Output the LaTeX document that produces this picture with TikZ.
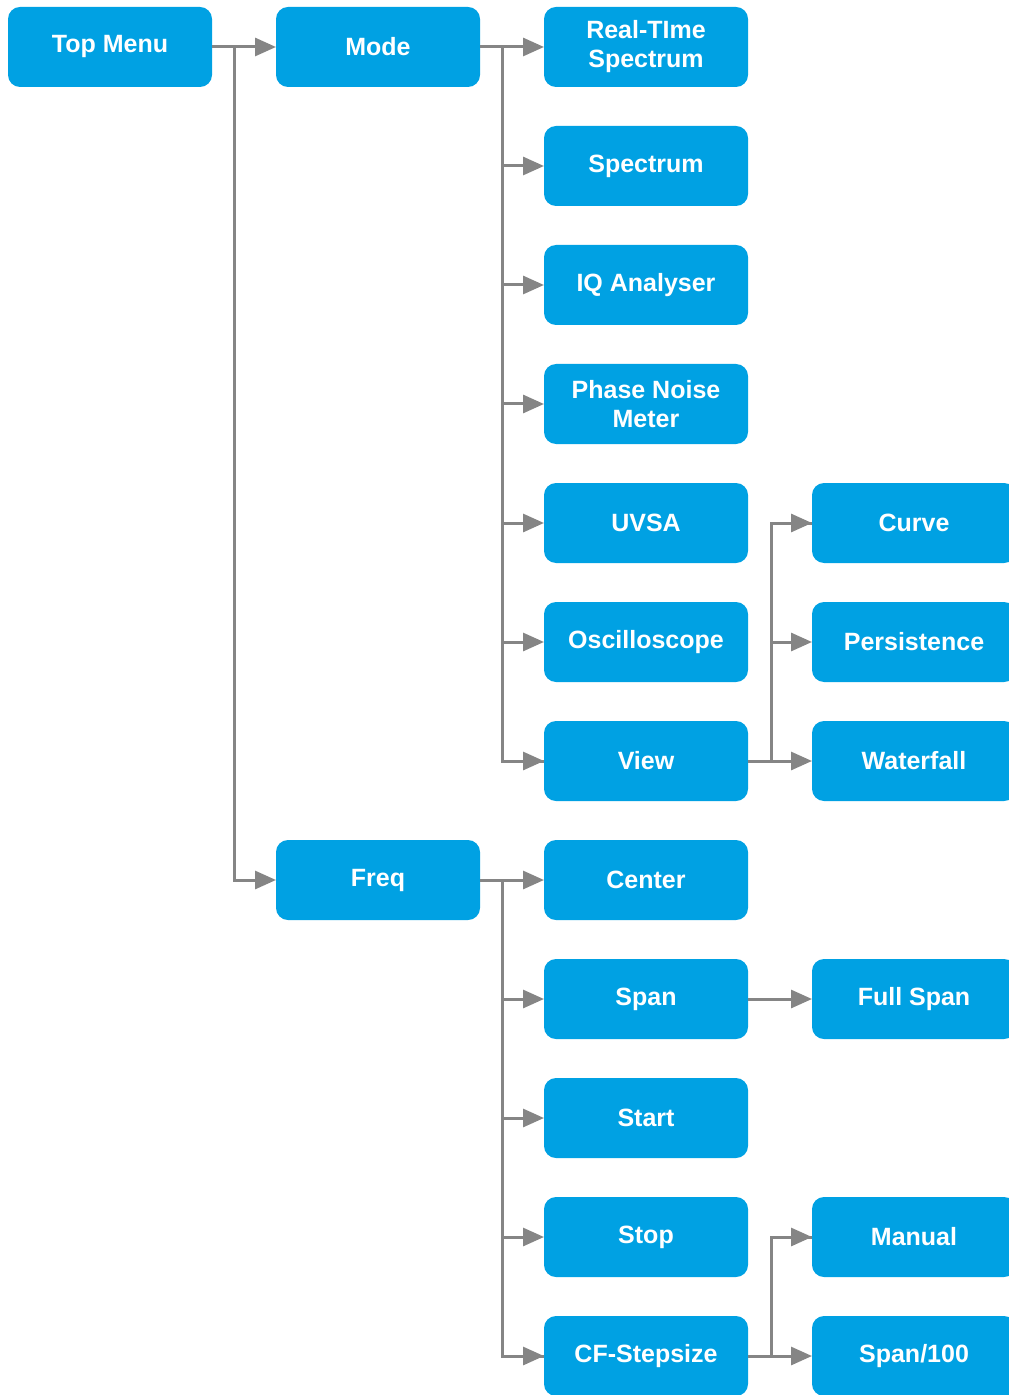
\documentclass[tikz,border=0pt]{standalone}
\usepackage{fontspec}
\setmainfont{Liberation Sans}
\usepackage{xcolor}
\usepackage{tikz}
\usetikzlibrary{positioning,arrows.meta}
\definecolor{menublue}{HTML}{00A1E3}
\definecolor{linegrey}{HTML}{858585}
\tikzset{>={Triangle[length=10.5pt,width=9pt]}}

\begin{document}
\begin{tikzpicture}[
menunode/.style={rectangle, rounded corners=6pt, align=center, fill=menublue, text=white, font=\fontsize{12.5}{14.5}\selectfont\bfseries, minimum width=102pt, minimum height=40pt, inner sep=0pt, outer sep=0pt},
menuline/.style={draw=linegrey, line width=1.5pt},
node distance=19.5pt and 32pt,
]
\useasboundingbox (0,0) rectangle (504pt,-697.5pt);
%Nodes
\node[menunode](TopMenu) at (55pt,-23.5pt){Top Menu};
\node[menunode](Mode)[right= of TopMenu]{Mode};
\node[menunode](RealTime)[right= of Mode]{Real-TIme\\Spectrum};
\node[menunode](Spectrum)[below= of RealTime]{Spectrum};
\node[menunode](IQAnalyser)[below= of Spectrum]{IQ Analyser};
\node[menunode](PhaseNoise)[below= of IQAnalyser]{Phase Noise\\Meter};
\node[menunode](UVSA)[below= of PhaseNoise]{UVSA};
\node[menunode](Oscilloscope)[below= of UVSA]{Oscilloscope};
\node[menunode](View)[below= of Oscilloscope]{View};
\node[menunode](Curve)[right= of UVSA]{Curve};
\node[menunode](Persistence)[right= of Oscilloscope]{Persistence};
\node[menunode](Waterfall)[right= of View]{Waterfall};
\node[menunode](Center)[below= of View]{Center};
\node[menunode](Freq)[left= of Center]{Freq};
\node[menunode](Span)[below= of Center]{Span};
\node[menunode](FullSpan)[right= of Span]{Full Span};
\node[menunode](Start)[below= of Span]{Start};
\node[menunode](Stop)[below= of Start]{Stop};
\node[menunode](CFStepsize)[below= of Stop]{CF-Stepsize};
\node[menunode](Manual)[right= of Stop]{Manual};
\node[menunode](SpanHundred)[right= of CFStepsize]{Span/100};

%Lines
\draw[menuline,->] (TopMenu) -- (Mode);
\draw[menuline,->] (TopMenu.east) -- ++(11pt,0) coordinate(TopTrunk) |- (Freq);
\draw[menuline,->] (Mode) -- (RealTime);
\draw[menuline] (Mode.east) -- ++(11pt,0) coordinate(ModeTrunk) |- (View);
\foreach \child in {Spectrum,IQAnalyser,PhaseNoise,UVSA,Oscilloscope,View}
  \draw[menuline,->] (ModeTrunk |- \child) -- (\child);
\draw[menuline,->] (Freq) -- (Center);
\draw[menuline] (Freq.east) -- ++(11pt,0) coordinate(FreqTrunk) |- (CFStepsize);
\foreach \child in {Span,Start,Stop,CFStepsize}
  \draw[menuline,->] (FreqTrunk |- \child) -- (\child);
\draw[menuline,->] (View) -- (Waterfall);
\draw[menuline] (View.east) -- ++(11.5pt,0) coordinate(ViewTrunk) |- (Curve);
\foreach \child in {Curve,Persistence}
  \draw[menuline,->] (ViewTrunk |- \child) -- (\child);
\draw[menuline,->] (Span) -- (FullSpan);
\draw[menuline,->] (CFStepsize) -- (SpanHundred);
\draw[menuline] (CFStepsize.east) -- ++(11.5pt,0) coordinate(StepTrunk) |- (Manual);
\draw[menuline,->] (StepTrunk |- Manual) -- (Manual);
\end{tikzpicture}
\end{document}
